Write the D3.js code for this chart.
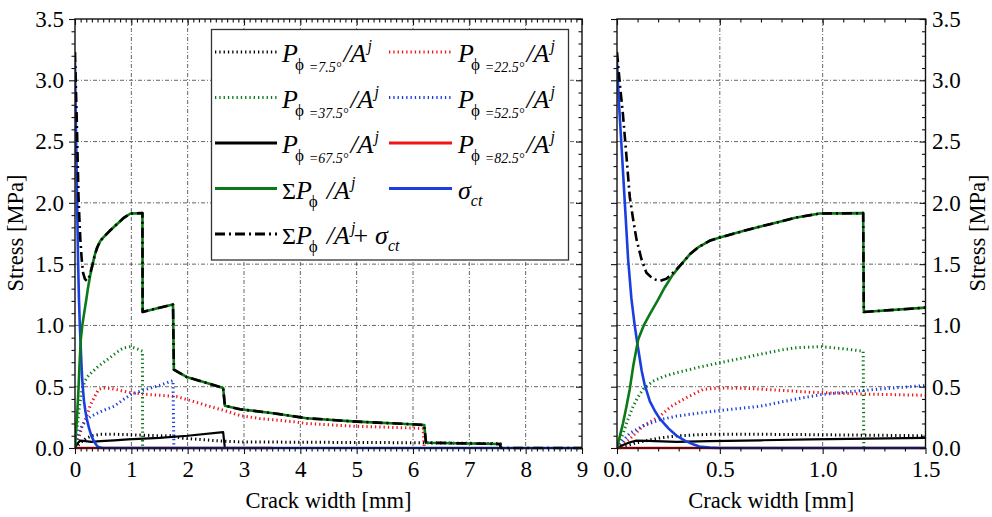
<!DOCTYPE html>
<html>
<head>
<meta charset="utf-8">
<script src="https://cdn.jsdelivr.net/npm/d3@7/dist/d3.min.js"></script>
<style>
  html, body { margin: 0; padding: 0; background: #fff; }
  svg { display: block; }
</style>
</head>
<body>
<script>
// Crack width w [mm] vs. stress [MPa]

// Fibre bridging stress per inclination angle, P_phi / A^j
const p7 = [[0,0],[0.05,0.02],[0.1,0.045],[0.2,0.08],[0.3,0.1],[0.45,0.112],[0.7,0.112],[1.0,0.108],[1.5,0.1],[1.7,0.1],[1.92,0.08],[2.2,0.07],[2.5,0.06],[2.9,0.05],[4.0,0.047],[5.0,0.045],[6.1,0.043],[7.55,0.035],[7.56,0]];
const p22 = [[0,0],[0.06,0.07],[0.127,0.18],[0.208,0.26],[0.264,0.34],[0.337,0.41],[0.418,0.478],[0.5,0.49],[0.65,0.485],[0.8,0.47],[0.94,0.455],[1.2,0.44],[1.5,0.43],[1.8,0.42],[2.1,0.38],[2.39,0.34],[2.69,0.3],[2.93,0.265],[3.28,0.24],[3.52,0.23],[3.87,0.215],[4.11,0.2],[5.0,0.177],[5.5,0.17],[6.18,0.16],[6.2,0]];
const p37 = [[0,0],[0.015,0.06],[0.03,0.12],[0.05,0.22],[0.078,0.34],[0.1,0.41],[0.127,0.48],[0.175,0.545],[0.23,0.585],[0.29,0.614],[0.4,0.66],[0.5,0.696],[0.6,0.73],[0.694,0.764],[0.8,0.8],[0.872,0.818],[0.986,0.827],[1.1,0.81],[1.197,0.79],[1.2,0]];
const p52 = [[0,0],[0.03,0.06],[0.062,0.12],[0.127,0.18],[0.208,0.23],[0.289,0.26],[0.4,0.285],[0.5,0.306],[0.694,0.34],[0.872,0.4],[1.0,0.437],[1.197,0.47],[1.5,0.51],[1.74,0.55],[1.755,0]];
const p67 = [[0,0],[0.03,0.025],[0.06,0.045],[0.094,0.06],[0.15,0.058],[0.29,0.05],[0.45,0.056],[0.7,0.063],[0.94,0.07],[1.5,0.083],[2.0,0.1],[2.63,0.13],[2.66,0]];
const p82 = [[0,0],[3.5,0]];

// Sum of all angles, sum P_phi / A^j
const sumStress = [[0,0],[0.01,0.07],[0.029,0.2],[0.045,0.33],[0.062,0.48],[0.08,0.68],[0.103,0.886],[0.13,1.0],[0.159,1.09],[0.2,1.21],[0.232,1.31],[0.27,1.41],[0.313,1.5],[0.354,1.58],[0.394,1.636],[0.45,1.69],[0.5,1.717],[0.613,1.77],[0.743,1.826],[0.872,1.88],[0.986,1.913],[1.197,1.916],[1.2,1.11],[1.5,1.145],[1.74,1.17],[1.755,0.64],[1.98,0.58],[2.27,0.54],[2.63,0.49],[2.66,0.345],[2.93,0.316],[3.52,0.284],[4.11,0.243],[5.0,0.215],[5.88,0.196],[6.2,0.188],[6.23,0.043],[7.54,0.033],[7.56,0]];

// Concrete tension softening, sigma_ct
const sigmaCt = [[0,3.15],[0.01,2.8],[0.021,2.49],[0.037,2.03],[0.054,1.54],[0.07,1.22],[0.086,1.0],[0.1,0.84],[0.12,0.63],[0.134,0.52],[0.16,0.38],[0.185,0.3],[0.208,0.24],[0.25,0.16],[0.29,0.1],[0.33,0.06],[0.37,0.03],[0.4,0.012],[0.45,0.003],[0.5,0],[9,0]];

// Total: sum P_phi / A^j + sigma_ct (early branch, then it follows the fibre sum)
const totalEarly = [[0,3.23],[0.015,2.95],[0.029,2.72],[0.045,2.4],[0.062,2.05],[0.078,1.87],[0.095,1.7],[0.119,1.54],[0.143,1.43],[0.175,1.38],[0.208,1.363],[0.24,1.38],[0.265,1.418],[0.29,1.46],[0.313,1.5]];
const totalTail = [[9,0]];
const totalStress = totalEarly.concat(sumStress.filter(d => d[0] > 0.313), totalTail);

// Tick labels
const xTicksWide = [0,1,2,3,4,5,6,7,8,9];
const xTicksZoom = [0,0.5,1.0,1.5];
const yTicks = [0,0.5,1.0,1.5,2.0,2.5,3.0,3.5];

const W = 992, H = 517;
const SERIF = '"Liberation Serif"';
const GREEN = "#0b7a16", RED = "#f21414", BLUE = "#1a3fe0", BLACK = "#000";
const PHI = "\u03D5";

const svg = d3.select("body").append("svg")
  .attr("width", W).attr("height", H)
  .attr("viewBox", `0 0 ${W} ${H}`);
svg.append("rect").attr("width", W).attr("height", H).attr("fill", "#fff");

const TOP = 19, BOTTOM = 448;

const series = [
  { data: p7,  color: BLACK, width: 3,   dash: "1.3 3" },
  { data: p22, color: RED,   width: 3,   dash: "1.3 3" },
  { data: p37, color: GREEN, width: 3,   dash: "1.3 3" },
  { data: p52, color: BLUE,  width: 3,   dash: "1.3 3" },
  { data: p67, color: BLACK, width: 2.2, dash: null },
  { data: p82, color: RED,   width: 2.6, dash: null },
  { data: sigmaCt, color: BLUE, width: 2.6, dash: null },
  { data: sumStress, color: GREEN, width: 2.6, dash: null },
  { data: totalStress, color: BLACK, width: 2.6, dash: "10 4 2 4" }
];

const panels = [
  { id: "wide", left: 75, right: 582, xMax: 9, xTicks: xTicksWide, fmt: d3.format("d"), labelsLeft: true },
  { id: "zoom", left: 617, right: 925.5, xMax: 1.5, xTicks: xTicksZoom, fmt: d3.format(".1f"), labelsLeft: false }
];

function minorTicks(max, step, majors) {
  return d3.range(0, max + 1e-9, step).filter(v => !majors.some(m => Math.abs(m - v) < 1e-6));
}

function styleAxis(g) {
  g.select(".domain").remove();
  g.attr("font-family", null).attr("font-size", null);
  g.selectAll("line").attr("stroke", "#111").attr("stroke-width", 1.1);
  g.selectAll("text").style("font-size", "23px").attr("fill", "#000");
}

panels.forEach(p => {
  const x = d3.scaleLinear([0, p.xMax], [p.left, p.right]);
  const y = d3.scaleLinear([0, 3.5], [BOTTOM, TOP]);
  const g = svg.append("g");

  g.append("clipPath").attr("id", "clip-" + p.id)
    .append("rect").attr("x", p.left).attr("y", TOP - 2)
    .attr("width", p.right - p.left).attr("height", BOTTOM - TOP + 4);

  // grid
  const grid = g.append("g").attr("stroke", "#555").attr("stroke-width", 0.9)
    .attr("stroke-dasharray", "4 2 1 2");
  grid.selectAll("line.v").data(p.xTicks.filter(v => v > 0 && v < p.xMax)).join("line")
    .attr("x1", d => x(d)).attr("x2", d => x(d)).attr("y1", TOP).attr("y2", BOTTOM);
  grid.selectAll("line.h").data(yTicks.filter(v => v > 0 && v < 3.5)).join("line")
    .attr("x1", p.left).attr("x2", p.right).attr("y1", d => y(d)).attr("y2", d => y(d));

  // curves
  const line = d3.line().x(d => x(d[0])).y(d => y(d[1]));
  const curves = g.append("g").attr("clip-path", `url(#clip-${p.id})`);
  series.forEach(s => {
    curves.append("path").datum(s.data)
      .attr("d", line).attr("fill", "none")
      .attr("stroke", s.color).attr("stroke-width", s.width)
      .attr("stroke-dasharray", s.dash)
      .attr("stroke-linejoin", "round");
  });

  // axes
  const xMinor = minorTicks(p.xMax, 0.1, p.xTicks);
  const yMinor = minorTicks(3.5, 0.1, yTicks);

  g.append("g").attr("transform", `translate(0,${BOTTOM})`)
    .call(d3.axisBottom(x).tickValues(p.xTicks).tickFormat(p.fmt).tickSize(6).tickPadding(7))
    .call(styleAxis);
  g.append("g").attr("transform", `translate(0,${BOTTOM})`)
    .call(d3.axisBottom(x).tickValues(xMinor).tickFormat("").tickSize(3.5))
    .call(styleAxis);
  g.append("g").attr("transform", `translate(0,${TOP})`)
    .call(d3.axisTop(x).tickValues(p.xTicks).tickFormat("").tickSize(-6))
    .call(styleAxis);
  g.append("g").attr("transform", `translate(0,${TOP})`)
    .call(d3.axisTop(x).tickValues(xMinor).tickFormat("").tickSize(-3.5))
    .call(styleAxis);

  g.append("g").attr("transform", `translate(${p.left},0)`)
    .call(d3.axisLeft(y).tickValues(yTicks).tickFormat(p.labelsLeft ? d3.format(".1f") : "").tickSize(6).tickPadding(5))
    .call(styleAxis);
  g.append("g").attr("transform", `translate(${p.left},0)`)
    .call(d3.axisLeft(y).tickValues(yMinor).tickFormat("").tickSize(3.5))
    .call(styleAxis);
  g.append("g").attr("transform", `translate(${p.right},0)`)
    .call(d3.axisRight(y).tickValues(yTicks).tickFormat(p.labelsLeft ? "" : d3.format(".1f")).tickSize(-6).tickPadding(6.5))
    .call(styleAxis);
  g.append("g").attr("transform", `translate(${p.right},0)`)
    .call(d3.axisRight(y).tickValues(yMinor).tickFormat("").tickSize(-3.5))
    .call(styleAxis);

  g.append("rect").attr("x", p.left).attr("y", TOP)
    .attr("width", p.right - p.left).attr("height", BOTTOM - TOP)
    .attr("fill", "none").attr("stroke", "#111").attr("stroke-width", 1.4);

  // axis titles
  g.append("text").attr("x", (p.left + p.right) / 2).attr("y", 508)
    .attr("text-anchor", "middle").style("font-size", "22.5px")
    .text("Crack width [mm]");
  const yx = p.labelsLeft ? 23 : 985;
  g.append("text").attr("transform", `translate(${yx},233) rotate(-90)`)
    .attr("text-anchor", "middle").style("font-size", "22.5px")
    .text("Stress [MPa]");
});

// legend
const lg = svg.append("g");
lg.append("rect").attr("x", 211.5).attr("y", 29.5).attr("width", 357).attr("height", 230.5)
  .attr("fill", "#fff").attr("stroke", "#333").attr("stroke-width", 1.3);

const ROW0 = 62, ROWSTEP = 45.5;
const COLS = [{ lx0: 215, lx1: 277, tx: 282 }, { lx0: 389, lx1: 452, tx: 458 }];

function sample(col, row, color, width, dash) {
  const yy = ROW0 + row * ROWSTEP - 10;
  lg.append("line").attr("x1", COLS[col].lx0).attr("x2", COLS[col].lx1)
    .attr("y1", yy).attr("y2", yy).attr("stroke", color)
    .attr("stroke-width", width).attr("stroke-dasharray", dash);
}

function baseText(col, row) {
  return lg.append("text").attr("x", COLS[col].tx).attr("y", ROW0 + row * ROWSTEP)
    .style("font-size", "26px").style("font-style", "italic");
}

function span(t, txt, size, italic) {
  return t.append("tspan").style("font-family", SERIF).style("font-size", size + "px")
    .style("font-style", italic ? "italic" : "normal").text(txt);
}

function angleLabel(col, row, angle) {
  const t = baseText(col, row);
  span(t, "P", 26, true);
  span(t, PHI, 17, false).attr("dx", -3).attr("dy", 8);
  span(t, "=" + angle + "°", 14, true).attr("dx", 5).attr("dy", 2);
  span(t, "/A", 26, true).attr("dx", 2).attr("dy", -10);
  span(t, "j", 16, true).attr("dx", 1).attr("dy", -11);
}

function sumLabel(col, row, withSigma) {
  const t = baseText(col, row);
  span(t, "Σ", 24, false);
  span(t, "P", 26, true);
  span(t, PHI, 17, false).attr("dx", -3).attr("dy", 8);
  span(t, "/A", 26, true).attr("dx", 9).attr("dy", -8);
  span(t, "j", 16, true).attr("dx", 1).attr("dy", -11);
  if (withSigma) {
    span(t, "+", 26, false).attr("dx", -2).attr("dy", 11);
    span(t, "σ", 26, true).attr("dx", 7);
    span(t, "ct", 16, true).attr("dy", 7);
  }
}

function sigmaLabel(col, row) {
  const t = baseText(col, row);
  span(t, "σ", 26, true);
  span(t, "ct", 16, true).attr("dy", 7);
}

const DOT = "1.3 3", DASHDOT = "10 4 2 4";
sample(0, 0, BLACK, 3, DOT);   angleLabel(0, 0, "7.5");
sample(1, 0, RED, 3, DOT);     angleLabel(1, 0, "22.5");
sample(0, 1, GREEN, 3, DOT);   angleLabel(0, 1, "37.5");
sample(1, 1, BLUE, 3, DOT);    angleLabel(1, 1, "52.5");
sample(0, 2, BLACK, 3.2, null); angleLabel(0, 2, "67.5");
sample(1, 2, RED, 3.2, null);   angleLabel(1, 2, "82.5");
sample(0, 3, GREEN, 3.2, null); sumLabel(0, 3, false);
sample(1, 3, BLUE, 3.2, null);  sigmaLabel(1, 3);
sample(0, 4, BLACK, 3.2, DASHDOT); sumLabel(0, 4, true);

// one serif face for every label
svg.selectAll("text").style("font-family", SERIF);
</script>
</body>
</html>
